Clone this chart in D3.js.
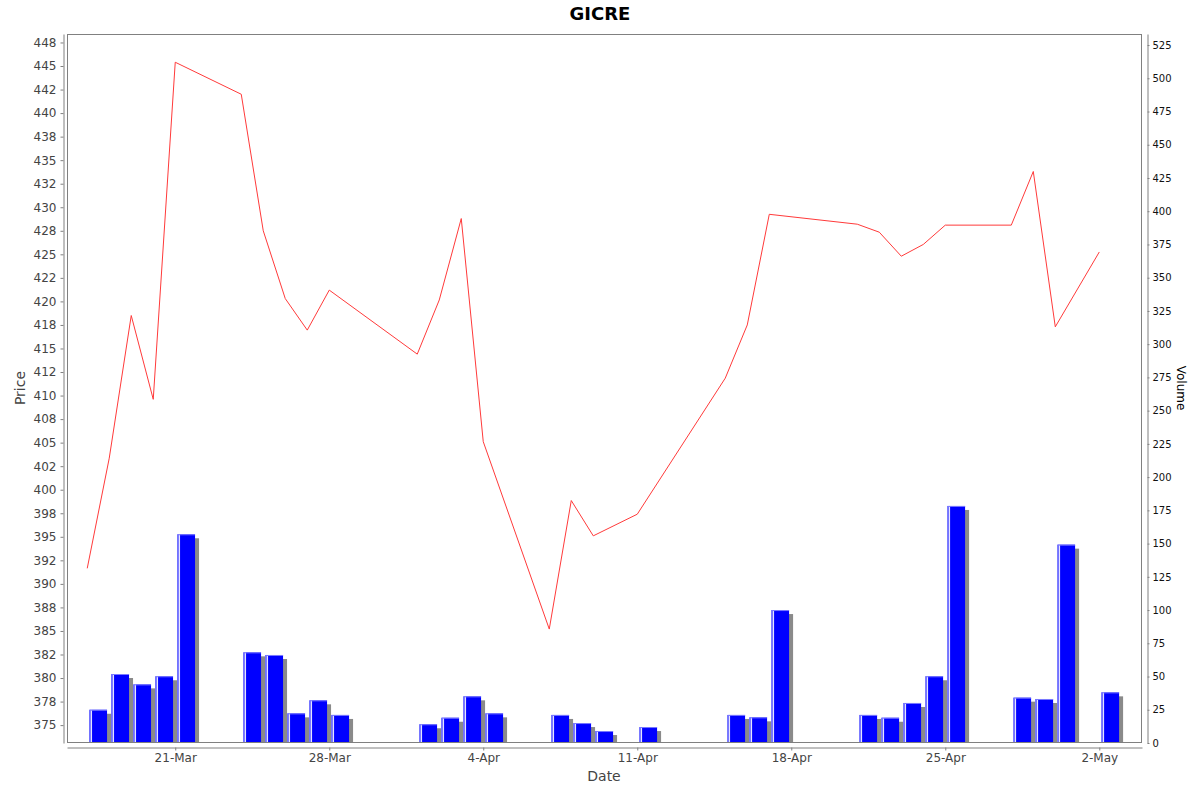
<!DOCTYPE html>
<html>
<head>
<meta charset="utf-8">
<script src="https://cdn.jsdelivr.net/npm/d3@7"></script>
<style>
  body { margin: 0; background: #fff; }
  svg { font-family: "DejaVu Sans", sans-serif; }
</style>
</head>
<body>
<div id="chart"></div>
<script>
const TITLE = "GICRE";

const dates = [
  "2025-03-17", "2025-03-18", "2025-03-19", "2025-03-20", "2025-03-21",
  "2025-03-24", "2025-03-25", "2025-03-26", "2025-03-27", "2025-03-28",
  "2025-04-01", "2025-04-02", "2025-04-03", "2025-04-04",
  "2025-04-07", "2025-04-08", "2025-04-09", "2025-04-11",
  "2025-04-15", "2025-04-16", "2025-04-17",
  "2025-04-21", "2025-04-22", "2025-04-23", "2025-04-24", "2025-04-25",
  "2025-04-28", "2025-04-29", "2025-04-30", "2025-05-02"
];

const prices = [
  391.65, 403.35, 418.5, 409.6, 445.4,
  442.0, 427.5, 420.3, 416.95, 421.2,
  414.4, 420.15, 428.8, 405.1,
  385.2, 398.85, 395.1, 397.4,
  411.85, 417.5, 429.25,
  428.2, 427.35, 424.8, 426.05, 428.1,
  428.1, 433.8, 417.3, 425.25
];

const volumes = [
  25.0, 51.9, 44.1, 50.2, 157.0,
  68.2, 66.2, 22.3, 32.1, 21.1,
  14.1, 19.0, 35.1, 22.3,
  21.1, 15.0, 9.0, 12.0,
  21.1, 19.3, 100.0,
  21.1, 19.0, 30.1, 50.2, 178.3,
  34.1, 33.1, 149.2, 38.1
];

const dateTicks = ["2025-03-21", "2025-03-28", "2025-04-04", "2025-04-11", "2025-04-18", "2025-04-25", "2025-05-02"];

const priceTicks = [375, 377.5, 380, 382.5, 385, 387.5, 390, 392.5, 395, 397.5, 400, 402.5, 405, 407.5,
  410, 412.5, 415, 417.5, 420, 422.5, 425, 427.5, 430, 432.5, 435, 437.5, 440, 442.5, 445, 447.5];
const priceTickLabels = ["375", "378", "380", "382", "385", "388", "390", "392", "395", "398", "400", "402", "405", "408",
  "410", "412", "415", "418", "420", "422", "425", "428", "430", "432", "435", "438", "440", "442", "445", "448"];

const volumeTicks = [0, 25, 50, 75, 100, 125, 150, 175, 200, 225, 250, 275, 300, 325, 350, 375, 400, 425, 450, 475, 500, 525];

// plot area
const PLOT = {left: 67, top: 34, right: 1142, bottom: 743};
const W = 1200, H = 792;

const parse = d3.utcParse("%Y-%m-%d");
const data = dates.map((d, i) => ({date: parse(d), price: prices[i], volume: volumes[i]}));

const svg = d3.select("#chart").append("svg")
    .attr("width", W)
    .attr("height", H);

const x = d3.scaleUtc()
    .domain([new Date(Date.UTC(2025, 2, 16, 1, 55)), new Date(Date.UTC(2025, 4, 3, 22, 35))])
    .range([PLOT.left, PLOT.right]);

const yPrice = d3.scaleLinear()
    .domain([373.1, 448.4])
    .range([PLOT.bottom, PLOT.top]);

const yVol = d3.scaleLinear()
    .domain([0, 533.3])
    .range([PLOT.bottom, PLOT.top]);

svg.append("defs").append("clipPath")
    .attr("id", "plotclip")
  .append("rect")
    .attr("x", PLOT.left)
    .attr("y", PLOT.top)
    .attr("width", PLOT.right - PLOT.left)
    .attr("height", PLOT.bottom - PLOT.top);

// title
svg.append("text")
    .attr("x", W / 2)
    .attr("y", 20)
    .attr("text-anchor", "middle")
    .attr("font-size", 18)
    .attr("font-weight", "bold")
    .attr("fill", "#000")
    .text(TITLE);

const plot = svg.append("g").attr("clip-path", "url(#plotclip)");

// volume bars: span the day with 10% margin each side
const DAY = 24 * 3600 * 1000;
const barX0 = d => x(new Date(+d.date + 0.1 * DAY));
const barX1 = d => x(new Date(+d.date + 0.9 * DAY));

plot.selectAll("rect.shadow")
    .data(data)
    .enter().append("rect")
        .attr("class", "shadow")
        .attr("x", d => barX0(d) + 4)
        .attr("y", d => yVol(d.volume) + 4)
        .attr("width", d => barX1(d) - barX0(d))
        .attr("height", d => PLOT.bottom - yVol(d.volume))
        .attr("fill", "#8a8a8a");

plot.selectAll("rect.bar")
    .data(data)
    .enter().append("rect")
        .attr("class", "bar")
        .attr("x", barX0)
        .attr("y", d => yVol(d.volume))
        .attr("width", d => barX1(d) - barX0(d))
        .attr("height", d => PLOT.bottom - yVol(d.volume))
        .attr("fill", "#0000ff");

// light stripe near left edge
plot.selectAll("rect.hl")
    .data(data)
    .enter().append("rect")
        .attr("class", "hl")
        .attr("x", d => barX0(d) + 1)
        .attr("y", d => yVol(d.volume))
        .attr("width", 1.6)
        .attr("height", d => PLOT.bottom - yVol(d.volume))
        .attr("fill", "#e4e4ff");

// lighter top edge
plot.selectAll("line.top")
    .data(data)
    .enter().append("line")
        .attr("class", "top")
        .attr("x1", barX0)
        .attr("x2", barX1)
        .attr("y1", d => yVol(d.volume) + 0.5)
        .attr("y2", d => yVol(d.volume) + 0.5)
        .attr("stroke", "#7a7aff")
        .attr("stroke-width", 1);

// price line
const line = d3.line()
    .x(d => x(d.date))
    .y(d => yPrice(d.price));

plot.append("path")
    .datum(data)
    .attr("fill", "none")
    .attr("stroke", "#ff3a3a")
    .attr("stroke-width", 1)
    .attr("d", line);

// plot border
svg.append("rect")
    .attr("x", PLOT.left + 0.5)
    .attr("y", PLOT.top + 0.5)
    .attr("width", PLOT.right - PLOT.left - 1)
    .attr("height", PLOT.bottom - PLOT.top - 1)
    .attr("fill", "none")
    .attr("stroke", "#808080")
    .attr("stroke-width", 1);

// left price axis
const leftAxis = svg.append("g")
    .attr("transform", `translate(63.5, 0)`)
    .call(d3.axisLeft(yPrice)
        .tickValues(priceTicks)
        .tickFormat((d, i) => priceTickLabels[i])
        .tickSize(3)
        .tickSizeOuter(0)
        .tickPadding(4));
leftAxis.select(".domain").attr("stroke", "#808080");
leftAxis.selectAll(".tick line").attr("stroke", "#808080");
leftAxis.selectAll(".tick text")
    .attr("font-family", "DejaVu Sans, sans-serif")
    .attr("font-size", 12)
    .attr("fill", "#444");

// right volume axis
const rightAxis = svg.append("g")
    .attr("transform", `translate(1147.5, 0)`)
    .call(d3.axisRight(yVol)
        .tickValues(volumeTicks)
        .tickSize(2)
        .tickSizeOuter(0)
        .tickPadding(3));
rightAxis.select(".domain").attr("stroke", "#808080");
rightAxis.selectAll(".tick line").attr("stroke", "#808080");
rightAxis.selectAll(".tick text")
    .attr("font-family", "DejaVu Sans, sans-serif")
    .attr("font-size", 10)
    .attr("fill", "#111");

// bottom date axis
const bottomAxis = svg.append("g")
    .attr("transform", `translate(0, 747.5)`)
    .call(d3.axisBottom(x)
        .tickValues(dateTicks.map(parse))
        .tickFormat(d3.utcFormat("%-d-%b"))
        .tickSize(3)
        .tickSizeOuter(0)
        .tickPadding(3));
bottomAxis.select(".domain").attr("stroke", "#808080");
bottomAxis.selectAll(".tick line").attr("stroke", "#808080");
bottomAxis.selectAll(".tick text")
    .attr("font-family", "DejaVu Sans, sans-serif")
    .attr("font-size", 12)
    .attr("fill", "#444");

// axis titles
svg.append("text")
    .attr("x", 604)
    .attr("y", 781)
    .attr("text-anchor", "middle")
    .attr("font-size", 14)
    .attr("fill", "#444")
    .text("Date");

svg.append("text")
    .attr("transform", "translate(25, 388) rotate(-90)")
    .attr("text-anchor", "middle")
    .attr("font-size", 14)
    .attr("fill", "#444")
    .text("Price");

svg.append("text")
    .attr("transform", "translate(1177, 388) rotate(90)")
    .attr("text-anchor", "middle")
    .attr("font-size", 12)
    .attr("fill", "#000")
    .text("Volume");
</script>
</body>
</html>
